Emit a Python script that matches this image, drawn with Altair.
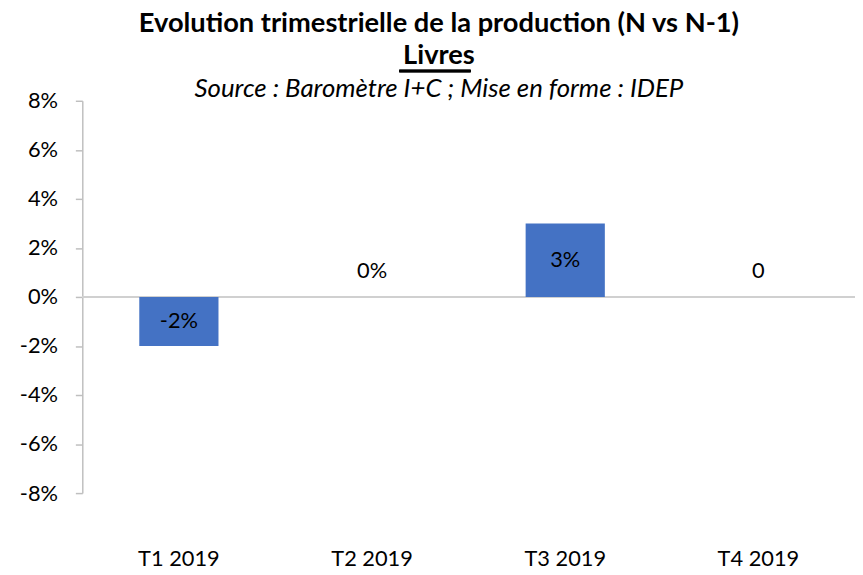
import altair as alt
import pandas as pd

quarters = ["T1 2019", "T2 2019", "T3 2019", "T4 2019"]
values = [-2, 0, 3, 0]
labels = ["-2%", "0%", "3%", "0"]
y_ticks = [-8, -6, -4, -2, 0, 2, 4, 6, 8]

df = pd.DataFrame({"quarter": quarters, "value": values, "label": labels})

FONT = "Lato"
BLUE = "#4472C4"
GRAY = "#BFBFBF"

x = alt.X("quarter:N", sort=quarters,
          scale=alt.Scale(paddingInner=0.59, paddingOuter=0.295),
          axis=alt.Axis(title=None, domain=False, ticks=False, labelAngle=0,
                        labelPadding=56, labelFontSize=22, labelFont=FONT,
                        labelColor="black"))
yscale = alt.Scale(domain=[-8, 8], nice=False, zero=True)
yaxis = alt.Axis(title=None, grid=False, values=y_ticks,
                 labelExpr="datum.value + '%'", labelFontSize=22, labelFont=FONT,
                 labelColor="black", labelPadding=18, tickSize=7,
                 domainColor=GRAY, tickColor=GRAY, domainWidth=1.5, tickWidth=1.5)

base = alt.Chart(df)

zero_rule = base.mark_rule(color="#D0D0D0", strokeWidth=2).encode(
    y=alt.datum(0, scale=yscale, axis=yaxis)
)

bars = base.mark_bar(color=BLUE).encode(
    x=x,
    y=alt.Y("value:Q", scale=yscale, axis=yaxis),
)

inner = base.transform_filter("datum.value != 0").transform_calculate(
    mid="datum.value / 2"
).mark_text(font=FONT, fontSize=22, color="black", baseline="middle").encode(
    x=x, y=alt.Y("mid:Q", scale=yscale), text="label:N"
)

outer = base.transform_filter("datum.value == 0").mark_text(
    font=FONT, fontSize=22, color="black", baseline="middle", dy=-26
).encode(
    x=x, y=alt.Y("value:Q", scale=yscale), text="label:N"
)

underline = base.mark_rule(color="black", strokeWidth=2.5).encode(
    x=alt.value(320), x2=alt.value(392), y=alt.value(-30)
)

chart = alt.layer(zero_rule, bars, inner, outer, underline).properties(
    width=780,
    height=396,
    autosize=alt.AutoSizeParams(type="none"),
    padding={"left": 75, "top": 91, "right": 0, "bottom": 78},
    title=alt.Title(
        text=["Evolution trimestrielle de la production (N vs N-1)", "Livres"],
        subtitle="Source : Baromètre I+C ; Mise en forme : IDEP",
        anchor="middle", frame="group", dx=-30, dy=36, offset=4,
        font=FONT, fontSize=27.5, fontWeight="bold", color="black", lineHeight=33,
        subtitleFont=FONT, subtitleFontSize=26, subtitleFontStyle="italic",
        subtitleColor="black", subtitlePadding=6,
    ),
).configure_view(stroke=None)

chart.save("out.html", embed_options={"renderer": "svg", "actions": False})
